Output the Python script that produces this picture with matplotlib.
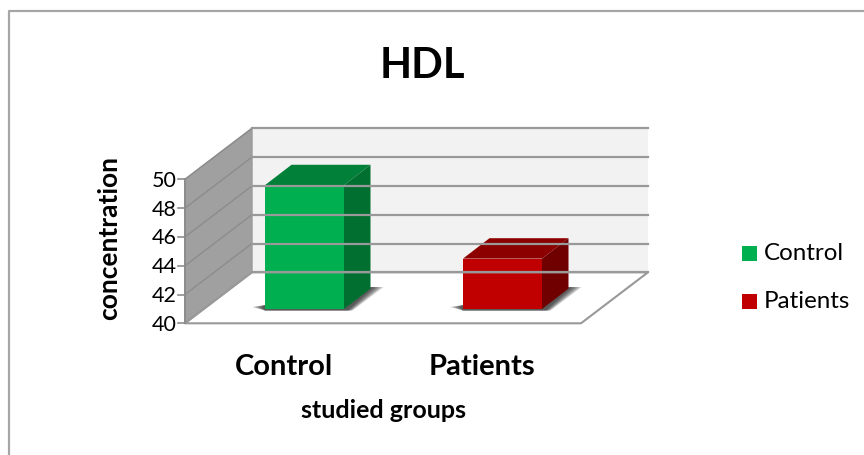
import matplotlib
matplotlib.use('Agg')
import matplotlib.pyplot as plt
from matplotlib.patches import Polygon, Rectangle

# data
groups = ['Control', 'Patients']
values = [48.6, 43.5]
tick_values = [40, 42, 44, 46, 48, 50]
front_colors = ['#00b050', '#c00000']
top_colors = ['#008038', '#8c0000']
side_colors = ['#006f30', '#700000']

plt.rcParams['font.family'] = ['Lato', 'DejaVu Sans']

# the pseudo 3d box, in pixels of the picture
X0, X1 = 185, 581
FLOOR_Y = 323.3
PX_PER_UNIT = 14.4
DX, DY = 67, -51
BAR_X = [265, 463]
BAR_W = 79
BAR_FLOOR_Y = 309
BAR_DX, BAR_DY = 26.5, -20.4
LABEL_X = [284, 482]


def val_y(v):
    return FLOOR_Y - (v - tick_values[0]) * PX_PER_UNIT


fig = plt.figure(figsize=(8.64, 4.55), dpi=100)
ax = fig.add_axes([0, 0, 1, 1])
ax.set_xlim(0, 864)
ax.set_ylim(455, 0)
ax.axis('off')

# chart frame
ax.plot([9, 9, 864], [455, 11, 11], color='#a6a6a6', lw=1.6)

top = val_y(tick_values[-1])

# back wall and side wall
ax.add_patch(Polygon([(X0 + DX, top + DY), (X1 + DX, top + DY),
                      (X1 + DX, FLOOR_Y + DY), (X0 + DX, FLOOR_Y + DY)],
                     fc='#f2f2f2', ec='none'))
ax.add_patch(Polygon([(X0, top), (X0 + DX, top + DY),
                      (X0 + DX, FLOOR_Y + DY), (X0, FLOOR_Y)],
                     fc='#a0a0a0', ec='#999999', lw=1))

# gridlines and ticks
for v in tick_values:
    y = val_y(v)
    ax.plot([X0, X0 + DX], [y, y + DY], color='#8c8c8c', lw=1.0)
    ax.plot([X0 + DX, X1 + DX], [y + DY, y + DY], color='#999999', lw=1.6)
    ax.plot([X0 - 7, X0], [y, y], color='#8c8c8c', lw=1.2)
    ax.text(X0 - 8, y + 1.5, str(v), ha='right', va='center', fontsize=15.5, color='black')

# floor
ax.add_patch(Polygon([(X0, FLOOR_Y), (X1, FLOOR_Y), (X1 + DX, FLOOR_Y + DY),
                      (X0 + DX, FLOOR_Y + DY)], fc='white', ec='none'))
ax.plot([X0 + DX, X1 + DX, X1, X0, X0 + DX],
        [FLOOR_Y + DY, FLOOR_Y + DY, FLOOR_Y, FLOOR_Y, FLOOR_Y + DY],
        color='#999999', lw=1.5)
ax.plot([X0, X0], [top, FLOOR_Y], color='#8c8c8c', lw=1.4)

# bars
for i, v in enumerate(values):
    xl = BAR_X[i]
    xr = xl + BAR_W
    yt = val_y(v) - (FLOOR_Y - BAR_FLOOR_Y)
    yb = BAR_FLOOR_Y
    # soft floor shadow, wider and fainter layers first
    for k in range(6):
        g = 13 - k * 2
        ax.add_patch(Polygon([(xl - g, yb - 2), (xl, yb - 4), (xr, yb - 4),
                              (xr + BAR_DX, yb + BAR_DY - 1.5),
                              (xr + BAR_DX + g, yb + BAR_DY - 1.5),
                              (xr + 2 + g * 0.5, yb + 1.5), (xl, yb + 1.5)],
                             fc='#202020', ec='none', alpha=0.2))
    ax.add_patch(Rectangle((xl, yt), BAR_W, yb - yt, fc=front_colors[i], ec='none'))
    ax.add_patch(Polygon([(xl, yt), (xr, yt), (xr + BAR_DX, yt + BAR_DY),
                          (xl + BAR_DX, yt + BAR_DY)], fc=top_colors[i], ec='none'))
    ax.add_patch(Polygon([(xr, yt), (xr + BAR_DX, yt + BAR_DY),
                          (xr + BAR_DX, yb + BAR_DY), (xr, yb)],
                         fc=side_colors[i], ec='none'))
    ax.text(LABEL_X[i], 367, groups[i], ha='center', va='center',
            fontsize=21, fontweight='bold')

# legend
for i, g in enumerate(groups):
    y = 253.5 + i * 48
    ax.add_patch(Rectangle((742, y - 7.5), 15, 15, fc=front_colors[i], ec='none'))
    ax.text(764, y + 0.5, g, ha='left', va='center', fontsize=17.4)

# titles
ax.text(422, 65.5, 'HDL', ha='center', va='center', fontsize=30, fontweight='bold')
ax.text(383.5, 411, 'studied groups', ha='center', va='center', fontsize=18, fontweight='bold')
ax.text(109, 238, 'concentration', ha='center', va='center', rotation=90,
        fontsize=19, fontweight='bold')

fig.savefig('out.png', dpi=100)
